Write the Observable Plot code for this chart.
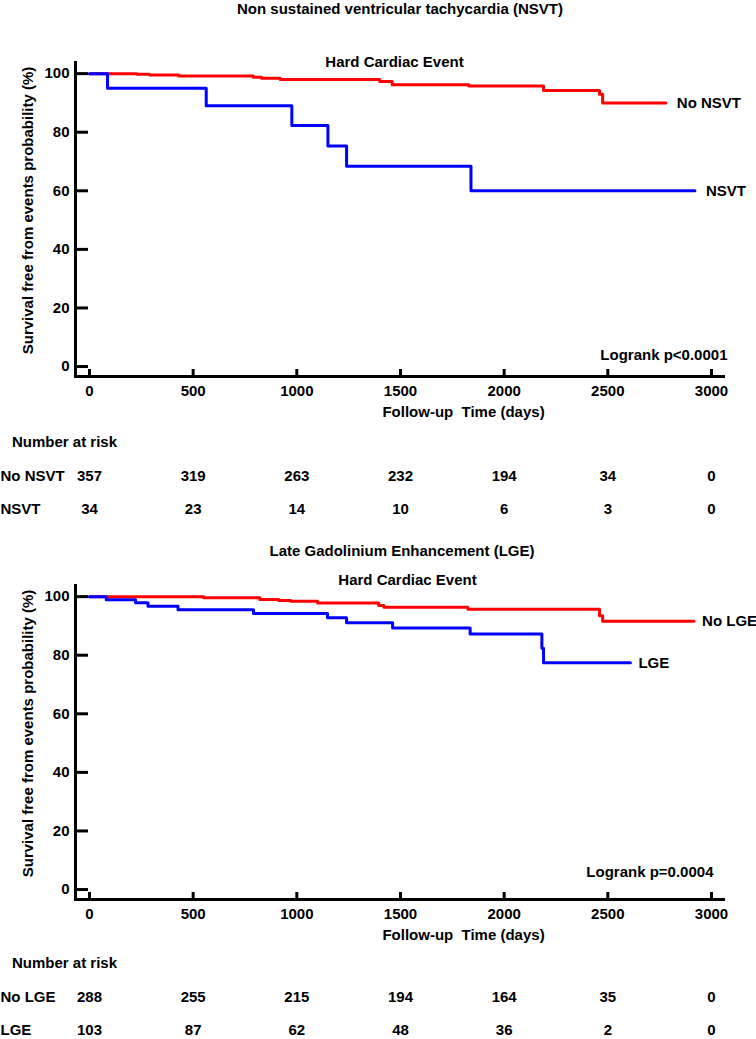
<!DOCTYPE html>
<html><head><meta charset="utf-8">
<script src="https://cdn.jsdelivr.net/npm/d3@7"></script>
<script src="https://cdn.jsdelivr.net/npm/@observablehq/plot@0.6"></script>
<style>
body{margin:0;background:#fff;}
#root{position:relative;width:756px;height:1039px;overflow:hidden;font-family:"Liberation Sans",Arial,sans-serif;font-weight:bold;font-size:15px;color:#000}
.abs{position:absolute;white-space:nowrap}
.ctr{transform:translate(-50%,-50%)}
.mid{transform:translateY(-50%)}
svg{display:block}
</style></head><body><div id="root"></div>
<script>
// ---- data ----
const nsvtTitle = "Non sustained ventricular tachycardia (NSVT)";
const lgeTitle = "Late Gadolinium Enhancement (LGE)";
const subTitle = "Hard Cardiac Event";
const yLabel = "Survival free from events probability (%)";
const xLabel = "Follow-up\u00a0 Time (days)";
const riskHeading = "Number at risk";
const xTicks = [0, 500, 1000, 1500, 2000, 2500, 3000];
const yTicks = [0, 20, 40, 60, 80, 100];

const noNsvtTime = [0, 230, 290, 430, 790, 830, 920, 1400, 1460, 1830, 2190, 2460, 2475, 2780];
const noNsvtSurv = [100, 99.8, 99.5, 99.2, 98.8, 98.4, 98.0, 97.3, 96.2, 95.8, 94.2, 93.0, 90.0, 90.0];
const nsvtTime = [0, 87, 563, 976, 1150, 1240, 1840, 2920];
const nsvtSurv = [100, 95, 89, 82.3, 75.3, 68.4, 60, 60];
const nsvtLogrank = "Logrank p<0.0001";

const noLgeTime = [0, 551, 822, 913, 971, 1100, 1395, 1420, 1825, 2460, 2475, 2916];
const noLgeSurv = [100, 99.6, 99.0, 98.7, 98.4, 97.8, 97.0, 96.4, 95.7, 93.5, 91.6, 91.6];
const lgeTime = [0, 81, 222, 282, 427, 791, 1148, 1240, 1462, 1836, 2182, 2190, 2609];
const lgeSurv = [100, 98.9, 97.9, 96.7, 95.5, 94.2, 92.8, 91.1, 89.3, 87.2, 82.4, 77.4, 77.4];
const lgeLogrank = "Logrank p=0.0004";

const riskTimes = [0, 500, 1000, 1500, 2000, 2500, 3000];
const noNsvtRisk = [357, 319, 263, 232, 194, 34, 0];
const nsvtRisk = [34, 23, 14, 10, 6, 3, 0];
const noLgeRisk = [288, 255, 215, 194, 164, 35, 0];
const lgeRisk = [103, 87, 62, 48, 36, 2, 0];

// ---- layout ----
const W = 756;
const xDomain = [-67.5, 3058];
const font = {fontFamily: "Liberation Sans, Arial, sans-serif", fontSize: "15px", fontWeight: "bold", color: "#000", background: "transparent", overflow: "visible"};
const root = document.getElementById("root");
const fmt = d => String(d);

function div(text, cls, left, top) {
  const d = document.createElement("div");
  d.className = "abs " + cls;
  d.style.left = left + "px"; d.style.top = top + "px";
  d.textContent = text;
  root.appendChild(d);
  return d;
}

function mainPlot(groups, opts) {
  const rows = [];
  groups.forEach(g => g.time.forEach((t, i) => rows.push({t, s: g.surv[i], name: g.name})));
  const ends = groups.map(g => ({t: g.time[g.time.length - 1], s: g.surv[g.surv.length - 1], name: g.name}));
  return Plot.plot({
    width: W, height: 425, marginTop: 62, marginBottom: 49, marginLeft: 75, marginRight: 33,
    x: {domain: xDomain},
    y: {domain: [-3.4, 103.8]},
    style: font,
    marks: [
      Plot.frame({anchor: "left", strokeWidth: 3}),
      Plot.frame({anchor: "bottom", strokeWidth: 3}),
      Plot.axisX(xTicks, {tickSize: -7, tickPadding: 16, strokeWidth: 3, label: null, fontSize: 15, tickFormat: fmt}),
      Plot.axisY(yTicks, {tickSize: -13, tickPadding: 19, strokeWidth: 3, label: null, fontSize: 15, tickFormat: fmt}),
      Plot.line(rows, {x: "t", y: "s", z: "name", stroke: "name", curve: "step-after", strokeWidth: 3}),
      Plot.text(ends, {x: "t", y: "s", text: "name", textAnchor: "start", dx: opts.endDx, fontSize: 15}),
      Plot.text([subTitle], {frameAnchor: "top", dx: opts.subDx, dy: opts.subDy, lineAnchor: "middle", fontSize: 15}),
      Plot.text([opts.logrank], {frameAnchor: "bottom-right", textAnchor: "end", dx: opts.lrDx, dy: opts.lrDy, lineAnchor: "middle", fontSize: 15}),
      Plot.text([xLabel], {frameAnchor: "bottom", dx: 64, dy: 36, lineAnchor: "middle", fontSize: 15}),
      Plot.text([yLabel], {frameAnchor: "left", textAnchor: "middle", rotate: -90, dx: -47, dy: -9, lineAnchor: "middle", fontSize: 15})
    ],
    color: {domain: groups.map(g => g.name), range: groups.map(g => g.color)}
  });
}

function riskPlot(groups) {
  const rows = [];
  groups.forEach(g => riskTimes.forEach((t, i) => rows.push({t, n: g.risk[i], name: g.name})));
  return Plot.plot({
    width: W, height: 66, marginTop: 0, marginBottom: 0, marginLeft: 75, marginRight: 33,
    x: {domain: xDomain, axis: null},
    y: {type: "point", domain: groups.map(g => g.name), axis: null, padding: 0.5},
    style: font,
    marks: [
      Plot.text(rows, {x: "t", y: "name", text: "n", fontSize: 15}),
      Plot.text(groups, {y: "name", text: "name", frameAnchor: "left", textAnchor: "start", dx: -75, fontSize: 15})
    ]
  });
}

function panel(top, cfg) {
  const wrap = document.createElement("div");
  wrap.className = "abs";
  wrap.style.left = "0px"; wrap.style.top = top + "px";
  wrap.appendChild(mainPlot(cfg.groups, cfg));
  root.appendChild(wrap);
  div(cfg.title, "ctr", cfg.titleX, top + cfg.titleY);
  div(riskHeading, "mid", 12, top + 441 + cfg.riskShift);
  const rw = document.createElement("div");
  rw.className = "abs";
  rw.style.left = "0px"; rw.style.top = (top + 459 + cfg.riskShift) + "px";
  rw.appendChild(riskPlot(cfg.groups));
  root.appendChild(rw);
}

panel(0, {
  title: nsvtTitle, titleX: 400, titleY: 8, endDx: 11,
  subDx: -5, subDy: 0, logrank: nsvtLogrank, lrDx: 4, lrDy: -21, riskShift: 0,
  groups: [
    {name: "No NSVT", time: noNsvtTime, surv: noNsvtSurv, risk: noNsvtRisk, color: "#ff0000"},
    {name: "NSVT", time: nsvtTime, surv: nsvtSurv, risk: nsvtRisk, color: "#0000ff"}
  ]
});

panel(523, {
  title: lgeTitle, titleX: 402, titleY: 27, endDx: 8,
  subDx: 8, subDy: -5, logrank: lgeLogrank, lrDx: -10, lrDy: -27, riskShift: -2,
  groups: [
    {name: "No LGE", time: noLgeTime, surv: noLgeSurv, risk: noLgeRisk, color: "#ff0000"},
    {name: "LGE", time: lgeTime, surv: lgeSurv, risk: lgeRisk, color: "#0000ff"}
  ]
});
</script></body></html>
